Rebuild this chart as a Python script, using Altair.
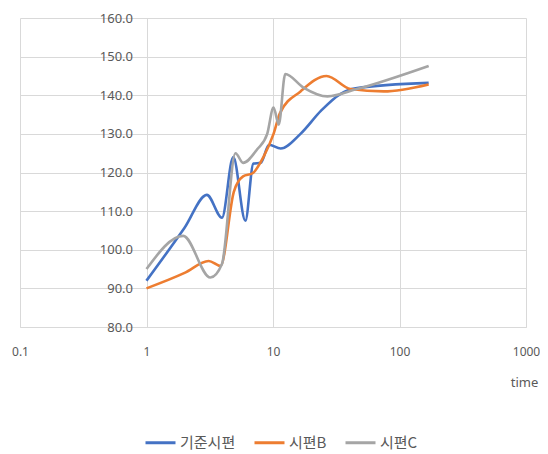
import altair as alt
import pandas as pd

# Series data (time on log axis)
series_names = ["기준시편", "시편B", "시편C"]

t_base = [1, 2.0, 3.0, 3.95, 4.85, 6.05, 7.0, 8.0, 9.3, 11.5, 16.5, 24, 34, 45, 170]
v_base = [92, 105.7, 114.2, 108.3, 124, 107.5, 122.3, 122.5, 127.2, 126.2, 130, 136, 140.3, 141.8, 143.2]

t_b = [1, 2.0, 3.1, 3.85, 4.9, 5.8, 6.9, 8.4, 10.1, 11.4, 16.5, 26.5, 41, 75, 170]
v_b = [90, 94, 97.1, 95.8, 115, 119, 119.8, 124, 130, 135.5, 141, 145, 141.6, 141, 142.8]

t_c = [1, 1.95, 3.2, 3.95, 5.05, 5.8, 7.5, 9, 10.1, 11.1, 12.5, 17.4, 27, 46, 170]
v_c = [95, 103.6, 92.8, 96.3, 125, 122.5, 126, 130, 136.8, 132.4, 145.5, 142, 139.7, 141.6, 147.6]

x_ticks = [0.1, 1, 10, 100, 1000]
y_ticks = [80, 90, 100, 110, 120, 130, 140, 150, 160]
colors = ["#4472C4", "#ED7D31", "#A5A5A5"]

rows = []
for name, ts, vs in zip(series_names, [t_base, t_b, t_c], [v_base, v_b, v_c]):
    for i, (t, v) in enumerate(zip(ts, vs)):
        rows.append({"series": name, "time": t, "value": v, "order": i})
df = pd.DataFrame(rows)

W, H = 506, 309
font = "Noto Sans CJK KR"
num_font = "Noto Sans"
txt = "#595959"
grid = "#D9D9D9"

chart = alt.Chart(df).mark_line(
    interpolate="monotone", strokeWidth=2.6
).encode(
    x=alt.X(
        "time:Q",
        scale=alt.Scale(type="log", domain=[0.1, 1000]),
        axis=alt.Axis(
            values=x_ticks, format="~g", grid=True, gridColor=grid,
            domain=True, domainColor=grid, ticks=False,
            labelPadding=19, labelFontSize=12, labelColor=txt, labelFont=num_font,
            title="time", titleFont=num_font, titleFontSize=13, titleFontWeight="normal",
            titleColor=txt, titleX=504, titleY=55, titleAlign="center",
            titleBaseline="middle", labelFlush=False,
        ),
    ),
    y=alt.Y(
        "value:Q",
        scale=alt.Scale(domain=[80, 160]),
        axis=alt.Axis(
            values=y_ticks, format=".1f", grid=True, gridColor=grid,
            domain=False, ticks=False, offset=-W / 4,
            labelPadding=14, labelFontSize=13, labelColor=txt, labelFont=num_font,
            title=None,
        ),
    ),
    color=alt.Color(
        "series:N",
        scale=alt.Scale(domain=series_names, range=colors),
        legend=alt.Legend(
            title=None, orient="none", legendX=124, legendY=408,
            direction="horizontal", symbolType="stroke", symbolSize=900,
            symbolStrokeWidth=3, labelFont=font, labelFontSize=15,
            labelColor=txt, labelOffset=3, columnPadding=12,
        ),
    ),
    order="order:Q",
).properties(
    width=W, height=H,
    autosize=alt.AutoSizeParams(type="none"),
    padding={"left": 12, "top": 10, "right": 14, "bottom": 127},
).configure_view(stroke=None)

chart.save("out.html", embed_options={"renderer": "svg", "actions": False})
